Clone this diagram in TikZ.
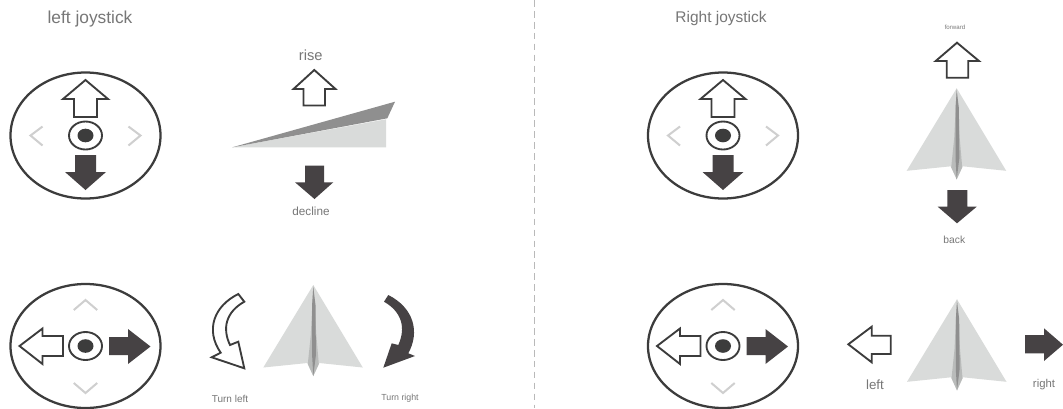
\documentclass[tikz,border=0pt]{standalone}
\usepackage{fontspec}
\setmainfont{Liberation Sans}
\definecolor{arrowdark}{HTML}{464244}
\definecolor{ringgray}{HTML}{3C3C3C}
\definecolor{chevgray}{HTML}{CFCFCF}
\definecolor{planelight}{HTML}{D9DBDA}
\definecolor{planedark}{HTML}{8F8F8F}
\definecolor{planemid}{HTML}{B9BBBA}
\definecolor{labelgray}{HTML}{777777}
\tikzset{
	openarrow/.style={draw=ringgray, fill=white, line width=1.4pt, line join=miter},
	fullarrow/.style={fill=arrowdark},
	chevron/.style={draw=chevgray, line width=1.5pt},
	label/.style={text=labelgray, inner sep=0pt},
	plane/.pic={
		\fill[planelight] (0, 0) -- (-50, 82.5) -- (-6, 78) -- (0, 91) -- (6, 78) -- (49.5, 82.5) -- cycle;
		\fill[planemid] (0, 0) -- (-2.5, 50) -- (-5.5, 79) -- (0, 91) -- (5.5, 79) -- (3, 50) -- cycle;
		\fill[planedark] (0, 2) -- (-1.2, 20) -- (-1.2, 70) -- (0, 91) -- (2.6, 70) -- (2.2, 20) -- cycle;
	}
}
\begin{document}
\begin{tikzpicture}[x=0.75pt, y=-0.75pt]
	\useasboundingbox (0, 0) rectangle (1063, 408);
	\fill[white] (0, 0) rectangle (1063, 408);
	\draw[gray!55, line width=1.3pt, dash pattern=on 5pt off 3.2pt] (534.5, 0) -- (534.5, 408);

	% the four sticks
	\foreach \cx in {85.5, 723} {
		\draw[ringgray, line width=1.7pt] (\cx, 135.5) ellipse [x radius=75, y radius=63];
		\draw[ringgray, line width=1.7pt] (\cx, 346) ellipse [x radius=75, y radius=62];
		\foreach \cy in {135.5, 346} {
			\draw[ringgray, line width=1.4pt] (\cx, \cy) ellipse [x radius=16.5, y radius=14];
			\fill[ringgray] (\cx, \cy) ellipse [x radius=8, y radius=6.8];
		}
		\draw[chevron] (\cx - 43, 126.5) -- (\cx - 55, 135.5) -- (\cx - 43, 145.5);
		\draw[chevron] (\cx + 43, 126.5) -- (\cx + 55, 135.5) -- (\cx + 43, 145.5);
		\draw[chevron] (\cx - 11.7, 310) -- (\cx, 300) -- (\cx + 11.7, 310);
		\draw[chevron] (\cx - 11.7, 383) -- (\cx, 393) -- (\cx + 11.7, 383);
		\draw[openarrow] (\cx, 80) -- (\cx + 22.5, 99) -- (\cx + 11.5, 99) -- (\cx + 11.5, 117) -- (\cx - 11.5, 117) -- (\cx - 11.5, 99) -- (\cx - 22.5, 99) -- cycle;
		\fill[fullarrow] (\cx - 10.5, 155) -- (\cx + 10.5, 155) -- (\cx + 10.5, 172) -- (\cx + 20.5, 172) -- (\cx, 190) -- (\cx - 20.5, 172) -- (\cx - 10.5, 172) -- cycle;
		\draw[openarrow] (\cx - 66, 346) -- (\cx - 43, 328.5) -- (\cx - 43, 336) -- (\cx - 22.5, 336) -- (\cx - 22.5, 356) -- (\cx - 43, 356) -- (\cx - 43, 364) -- cycle;
		\fill[fullarrow] (\cx + 23.5, 337) -- (\cx + 42.5, 337) -- (\cx + 42.5, 329) -- (\cx + 65, 346.5) -- (\cx + 42.5, 364) -- (\cx + 42.5, 355) -- (\cx + 23.5, 355) -- cycle;
	}

	% pitch wedge
	\fill[planelight] (232.3, 147.3) -- (386, 119.3) -- (386, 147.3) -- cycle;
	\fill[planedark] (232.3, 147.3) -- (395, 101.7) -- (387.3, 118.3) -- cycle;
	\draw[openarrow] (314.3, 70) -- (335.5, 89) -- (325, 89) -- (325, 105.5) -- (303.5, 105.5) -- (303.5, 89) -- (293.5, 89) -- cycle;
	\fill[fullarrow] (305, 165.7) -- (324, 165.7) -- (324, 182.3) -- (333.3, 182.3) -- (314.5, 199) -- (295, 182.3) -- (305, 182.3) -- cycle;

	% planes
	\pic at (313.3, 285) {plane};
	\pic at (956.7, 88.3) {plane};
	\pic at (957, 299.3) {plane};

	% turn arrows
	\draw[openarrow] (238.3, 294) .. controls (214, 306) and (205, 330) .. (220.7, 352.7) -- (211.7, 357.3) -- (244.3, 368.3) -- (238.3, 341.7) -- (230, 345) .. controls (222, 328) and (226, 312) .. (244.3, 301.7) -- cycle;
	\fill[fullarrow] (388.3, 295) .. controls (414, 308) and (420, 332) .. (408.3, 353.3) -- (415, 356) -- (383.3, 367.7) -- (391.7, 343.3) -- (398.3, 345) .. controls (406, 328) and (402, 312) .. (384, 301.7) -- cycle;

	% right column arrows
	\draw[openarrow] (957, 42.7) -- (979, 61) -- (968.3, 61) -- (968.3, 77.7) -- (946.7, 77.7) -- (946.7, 61) -- (935.7, 61) -- cycle;
	\fill[fullarrow] (947.3, 190) -- (967.3, 190) -- (967.3, 206.7) -- (976.7, 206.7) -- (957, 223.3) -- (937.7, 206.7) -- (947.3, 206.7) -- cycle;
	\draw[openarrow] (848.3, 344.3) -- (871.7, 326.7) -- (871.7, 335.7) -- (890.7, 335.7) -- (890.7, 354) -- (871.7, 354) -- (871.7, 362.3) -- cycle;
	\fill[fullarrow] (1025, 335) -- (1044, 335) -- (1044, 328.3) -- (1063, 344.7) -- (1044, 361) -- (1044, 353.3) -- (1025, 353.3) -- cycle;

	\node[label, font=\fontsize{13pt}{14pt}\selectfont] (lefttitle) at (90, 19) {left joystick};
	\node[label, font=\fontsize{11.6pt}{13pt}\selectfont] (righttitle) at (721, 18.3) {Right joystick};
	\node[label, font=\fontsize{11pt}{12pt}\selectfont] (rise) at (310.7, 55.7) {rise};
	\node[label, font=\fontsize{8.8pt}{10pt}\selectfont] (decline) at (311, 211) {decline};
	\node[label, font=\fontsize{7.5pt}{8pt}\selectfont] (turnleft) at (230, 399) {Turn left};
	\node[label, font=\fontsize{6.6pt}{8pt}\selectfont] (turnright) at (400, 398) {Turn right};
	\node[label, font=\fontsize{4.6pt}{5pt}\selectfont] (forward) at (955, 27.3) {forward};
	\node[label, font=\fontsize{7.7pt}{8pt}\selectfont] (back) at (954.3, 240) {back};
	\node[label, font=\fontsize{10pt}{11pt}\selectfont] (left) at (875, 384.3) {left};
	\node[label, font=\fontsize{8.5pt}{9pt}\selectfont] (right) at (1044, 385) {right};
\end{tikzpicture}
\end{document}
